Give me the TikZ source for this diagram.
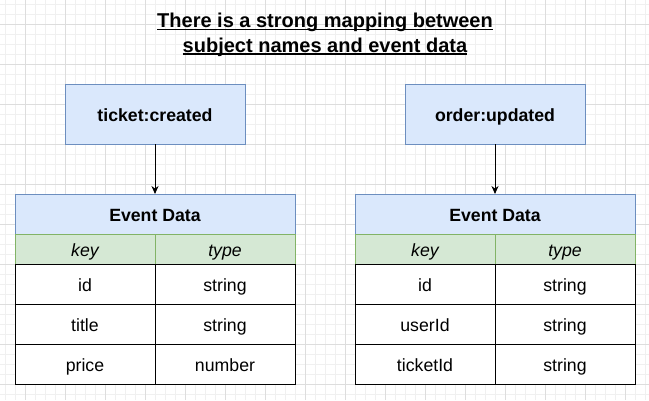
\documentclass[tikz,border=0pt]{standalone}
\usepackage{fontspec}
\setmainfont{Liberation Sans}
\usetikzlibrary{positioning,arrows.meta}
\definecolor{evfill}{HTML}{DAE8FC}
\definecolor{evline}{HTML}{6C8EBF}
\definecolor{kfill}{HTML}{D5E8D4}
\definecolor{kline}{HTML}{82B366}
\definecolor{gridmaj}{HTML}{DDDDDD}
\definecolor{gridmin}{HTML}{F0F0F0}
\begin{document}
\begin{tikzpicture}[x=1pt,y=-1pt,line width=1pt,
	every node/.style={font=\fontsize{17.7}{21}\selectfont,inner sep=0pt,outer sep=0pt,text height=14.5pt,text depth=0pt},
	subj/.style={draw=evline,fill=evfill,minimum width=180pt,minimum height=60pt,font=\fontsize{17.7}{21}\selectfont\bfseries},
	hdr/.style={draw=evline,fill=evfill,minimum width=280pt,minimum height=40pt,font=\fontsize{17.7}{21}\selectfont\bfseries},
	keycell/.style={draw=kline,fill=kfill,minimum width=140pt,minimum height=30pt,font=\fontsize{17.7}{21}\selectfont\itshape},
	cell/.style={draw=black,fill=white,minimum width=140pt,minimum height=40pt},
	link/.style={draw,-{Stealth[length=8pt,width=7pt]}},
	ttl/.style={font=\fontsize{20}{24}\selectfont\bfseries,anchor=base,text height=,text depth=}]
\useasboundingbox (0,0) rectangle (649,400);
\fill[white] (0,0) rectangle (649,400);
\foreach \x in {5,15,...,645} \draw[gridmin,line width=0.7pt] (\x,0) -- (\x,400);
\foreach \y in {4,14,...,394} \draw[gridmin,line width=0.7pt] (0,\y) -- (649,\y);
\foreach \x in {25,65,...,625} \draw[gridmaj,line width=0.7pt] (\x,0) -- (\x,400);
\foreach \y in {24,64,...,384} \draw[gridmaj,line width=0.7pt] (0,\y) -- (649,\y);

\node[ttl] (t1) at (325,27.5) {There is a strong mapping between};
\node[ttl] (t2) at (325,52) {subject names and event data};
\draw[line width=1.3pt] ([yshift=-2pt]t1.base west) -- ([yshift=-2pt]t1.base east);
\draw[line width=1.3pt] ([yshift=-2pt]t2.base west) -- ([yshift=-2pt]t2.base east);

\node[subj] (tc) at (155,114) {ticket:created};
\node[subj] (ou) at (495,114) {order:updated};

\node[hdr,below=50pt of tc] (lh) {Event Data};
\node[keycell,below right=0pt of lh.south west] (lk) {key};
\node[keycell,right=0pt of lk] (lt) {type};
\node[cell,below=0pt of lk] (l1k) {id};
\node[cell,below=0pt of lt] (l1t) {string};
\node[cell,below=0pt of l1k] (l2k) {title};
\node[cell,below=0pt of l1t] (l2t) {string};
\node[cell,below=0pt of l2k] (l3k) {price};
\node[cell,below=0pt of l2t] (l3t) {number};

\node[hdr,below=50pt of ou] (rh) {Event Data};
\node[keycell,below right=0pt of rh.south west] (rk) {key};
\node[keycell,right=0pt of rk] (rt) {type};
\node[cell,below=0pt of rk] (r1k) {id};
\node[cell,below=0pt of rt] (r1t) {string};
\node[cell,below=0pt of r1k] (r2k) {userId};
\node[cell,below=0pt of r1t] (r2t) {string};
\node[cell,below=0pt of r2k] (r3k) {ticketId};
\node[cell,below=0pt of r2t] (r3t) {string};

\draw[link] (tc) -- (lh);
\draw[link] (ou) -- (rh);
\end{tikzpicture}
\end{document}
